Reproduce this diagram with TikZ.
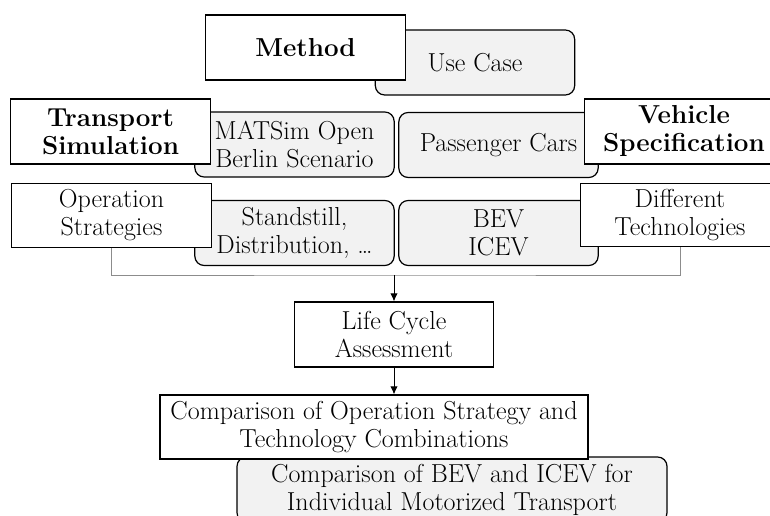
\documentclass[tikz,border=0pt]{standalone}
\usepackage{tikz}
\usetikzlibrary{arrows.meta}
\definecolor{casegray}{HTML}{F2F2F2}
\definecolor{linkgray}{HTML}{8C8C8C}
\tikzset{
	plainbox/.style={draw=black, line width=0.9pt, fill=white, align=center, inner sep=0pt, minimum width=149.5pt, minimum height=48.75pt},
	casebox/.style={plainbox, fill=casegray, rounded corners=7pt},
	arr/.style={line width=0.7pt, -{Latex[length=6pt,width=5.5pt]}}
}

\begin{document}
\begin{tikzpicture}[x=0.75pt, y=-0.75pt, font=\fontsize{19.5}{21}\selectfont]
		%%%%% START %%%%%
		\useasboundingbox (0, 0) rectangle (770, 516);
		\clip (0, 0) rectangle (770, 516);
		
		\node[casebox] (usecase) at (475, 62.5) {\raisebox{-4pt}{Use Case}};
		\node[plainbox] (method) at (305.5, 47.5) {\textbf{Method}};
		
		\node[casebox] (matsim) at (294.5, 144.5) {MATSim Open\\Berlin Scenario};
		\node[casebox] (cars) at (498.5, 145) {Passenger Cars};
		\node[plainbox] (transport) at (110.5, 131.5) {\textbf{Transport}\\\textbf{Simulation}};
		\node[plainbox] (vehicle) at (684, 131.5) {\textbf{Vehicle}\\\textbf{Specification}};
		
		\node[casebox] (standstill) at (294.5, 233) {Standstill,\\Distribution, \dots};
		\node[casebox] (bev) at (498.5, 233) {BEV\\ICEV};
		\node[plainbox, minimum height=47.5pt] (ops) at (111.5, 215.5) {Operation\\Strategies};
		\node[plainbox, minimum height=47.5pt] (tech) at (680, 215) {Different\\Technologies};
		
		\coordinate (join) at (394, 275);
		\draw[linkgray, line width=0.7pt] (ops.south) |- (join) -| (tech.south);
		
		\node[plainbox] (lca) at (394, 334.5) {Life Cycle\\Assessment};
		\draw[arr] (join) -- (lca.north);
		
		\node[casebox, minimum width=322.5pt] (bevcomp) at (452, 489.5) {Comparison of BEV and ICEV for\\Individual Motorized Transport};
		\node[plainbox, minimum width=321pt, minimum height=48pt] (comp) at (374, 427) {Comparison of Operation Strategy and\\Technology Combinations};
		\draw[arr] (lca.south) -- (lca.south |- comp.north);
		%%%%% END %%%%%
	\end{tikzpicture}
\end{document}
